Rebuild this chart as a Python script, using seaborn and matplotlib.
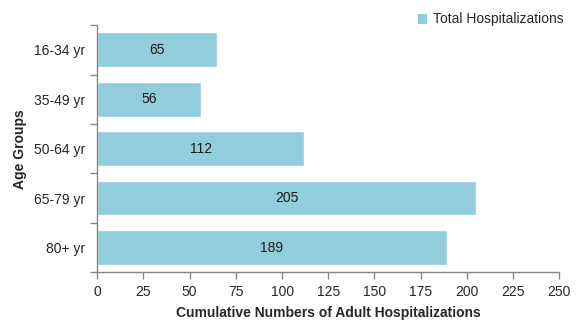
import pandas as pd
import seaborn as sns
import matplotlib.pyplot as plt
from matplotlib.patches import Patch
from matplotlib.ticker import FixedLocator

age_groups = ['16-34 yr', '35-49 yr', '50-64 yr', '65-79 yr', '80+ yr']
hospitalizations = [65, 56, 112, 205, 189]
x_ticks = [0, 25, 50, 75, 100, 125, 150, 175, 200, 225, 250]

bar_color = '#92CDDC'
axis_color = '#868686'

sns.set_style('white')
plt.rcParams['font.family'] = ['Liberation Sans', 'DejaVu Sans']

df = pd.DataFrame({'age': age_groups, 'count': hospitalizations})

fig = plt.figure(figsize=(5.79, 3.24), dpi=100)
ax = fig.add_axes([0.168, 0.1596, 0.798, 0.763])

sns.barplot(data=df, x='count', y='age', color=bar_color, width=0.70,
            saturation=1, ax=ax)

for i, v in enumerate(hospitalizations):
    ax.text(v / 2, i, str(v), ha='center', va='center', fontsize=10,
            color='#1a1a1a')

ax.set_xlim(0, 250)
ax.set_ylim(4.5, -0.5)
ax.set_xticks(x_ticks)
ax.yaxis.set_minor_locator(FixedLocator([i - 0.5 for i in range(6)]))
ax.tick_params(axis='y', which='major', length=0, pad=9, labelsize=10)
ax.tick_params(axis='y', which='minor', length=5, color=axis_color, width=1,
               direction='out', left=True)
ax.tick_params(axis='x', length=5, color=axis_color, width=1,
               direction='out', bottom=True, labelsize=10, pad=4)

for side in ['top', 'right']:
    ax.spines[side].set_visible(False)
for side in ['left', 'bottom']:
    ax.spines[side].set_color(axis_color)
    ax.spines[side].set_linewidth(1)

ax.set_xlabel('Cumulative Numbers of Adult Hospitalizations', fontsize=10,
              fontweight='bold', labelpad=5)
ax.set_ylabel('Age Groups', fontsize=10, fontweight='bold', labelpad=5)

handles = [Patch(facecolor=bar_color, edgecolor='none')]
fig.legend(handles, ['Total Hospitalizations'], loc='upper right',
           bbox_to_anchor=(0.995, 1.0), frameon=False, fontsize=10,
           handlelength=0.7, handleheight=0.7, handletextpad=0.4)

fig.savefig('out.png', dpi=100)
